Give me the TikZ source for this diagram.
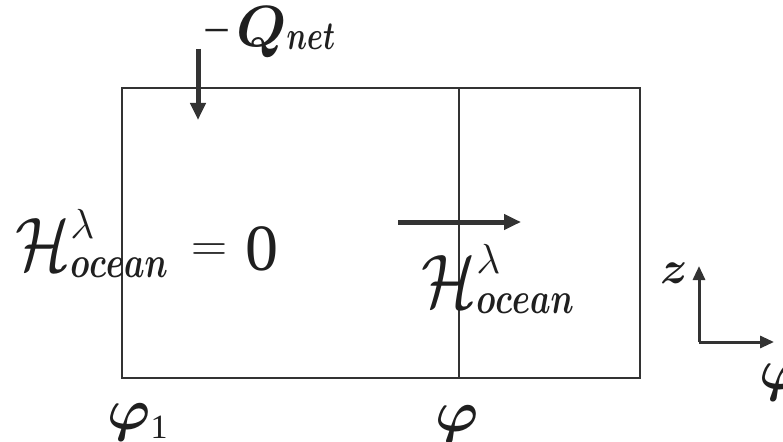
\RequirePackage{fix-cm}
\documentclass[tikz,border=0pt]{standalone}
\usepackage{amsmath}
\usepackage{fontspec}
\setmainfont{Liberation Serif}
\newfontfamily\tnr{Liberation Serif}
\usetikzlibrary{arrows.meta}
\newcommand{\fs}[1]{\fontsize{#1}{#1}\selectfont}
\newcommand{\bi}[1]{$\boldsymbol{#1}$}
\tikzset{
  boxline/.style={draw=black!80, line width=2.6pt},
  flux/.style={draw=black!80, line width=5pt, -{Triangle[length=17pt,width=15pt]}},
  axis/.style={draw=black!80, line width=3pt, -{Triangle[length=14pt,width=12pt]}},
  lab/.style={inner sep=0pt, text=black!88, anchor=base west}
}
\begin{document}
\begin{tikzpicture}[x=1pt,y=-1pt]
\fill[white] (0,0) rectangle (783,441);
\useasboundingbox (0,0) rectangle (783,441);
% box
\coordinate (tl) at (122,88);
\coordinate (br) at (640,378);
\coordinate (dtop) at (459,88);
\coordinate (dbot) at (459,378);
\draw[boxline] (tl) rectangle (br);
\draw[boxline] (dtop) -- (dbot);
% heat flux arrow
\coordinate (qs) at (198,49);
\coordinate (qe) at (198,120);
\draw[flux] (qs) -- (qe);
\node[lab] (q) at (203,47) {\hbox{\tnr\fs{48}\textminus\hspace{6pt}\fs{58}\bi{Q}\raisebox{-3pt}{\fs{40}\scalebox{0.72}[1]{\bi{net}}}}};
% left label
\node[lab] (hl) at (15,270) {\hbox{\fs{76}\scalebox{0.85}[1]{$\mathcal{H}$}%
  \rlap{\raisebox{32pt}{\fs{42}$\lambda$}}%
  \raisebox{-7pt}{\fs{44}\scalebox{0.74}[1]{\bi{ocean}}}%
  \hspace{24pt}\raisebox{9pt}{\fs{50}$=$}\hspace{18pt}{\tnr\fs{66}0}}};
% transport arrow
\coordinate (ts) at (398,222);
\coordinate (te) at (521,222);
\draw[flux] (ts) -- (te);
\node[lab] (hr) at (421,307) {\hbox{\fs{76}\scalebox{0.85}[1]{$\mathcal{H}$}%
  \rlap{\raisebox{34pt}{\fs{42}$\lambda$}}%
  \raisebox{-6pt}{\fs{44}\scalebox{0.74}[1]{\bi{ocean}}}}};
% axes
\coordinate (o) at (699,342);
\coordinate (zt) at (699,266);
\coordinate (pt) at (774,342);
\draw[axis] (o) -- (zt);
\draw[axis] (o) -- (pt);
\node[lab] (z) at (660,283) {\fs{46}\bi{z}};
\node[lab] (phiax) at (759,389) {\fs{58}\bi{\varphi}};
% bottom labels
\node[lab] (phi1) at (107,429) {\hbox{\fs{58}\bi{\varphi}\raisebox{-9pt}{\tnr\fs{34}1}}};
\node[lab] (phi) at (435,431) {\fs{58}\bi{\varphi}};
\end{tikzpicture}
\end{document}
